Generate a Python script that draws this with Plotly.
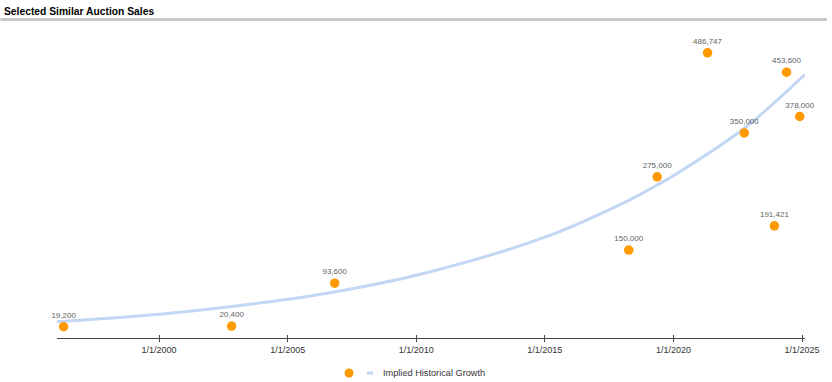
import plotly.graph_objects as go

# ---- data ----
sale_dates = ["1996-04-15", "2002-10-27", "2006-10-30", "2018-04-07", "2019-05-15",
              "2021-04-30", "2022-10-04", "2023-12-06", "2024-05-26", "2024-11-29"]
sale_prices = [19200, 20400, 93600, 150000, 275000, 486747, 350000, 191421, 453600, 378000]

trend_dates = ["1996-01-12", "1998-01-01", "2000-01-01", "2002-10-27", "2005-01-01",
               "2006-10-30", "2010-01-01", "2015-01-01", "2018-04-07", "2019-05-15",
               "2020-01-01", "2022-10-04", "2025-01-01", "2025-02-12"]
trend_values = [27700, 33500, 40500, 53800, 66000, 78500, 107000, 172000, 235000,
                261000, 277000, 358000, 445000, 450000]

tick_dates = ["2000-01-01", "2005-01-01", "2010-01-01", "2015-01-01", "2020-01-01", "2025-01-01"]
tick_labels = ["1/1/2000", "1/1/2005", "1/1/2010", "1/1/2015", "1/1/2020", "1/1/2025"]

title_text = "Selected Similar Auction Sales"
trend_name = "Implied Historical Growth"

x_range = ["1996-01-12", "2025-02-12"]
y_range = [0, 525600]

ORANGE = "#FF9900"
BLUE = "#C3D6F3"
FONT = "Liberation Sans, Arial, sans-serif"

W, H = 832, 382
ML, MR, MT, MB = 57, 22, 30, 44
PW = W - ML - MR
PH = H - MT - MB


def px(xp):
    return (xp - ML) / PW


def py(yp):
    return (H - MB - yp) / PH


fig = go.Figure()

fig.add_trace(go.Scatter(
    x=trend_dates, y=trend_values, mode="lines", name=trend_name,
    line=dict(color=BLUE, width=3, shape="spline", smoothing=1.0),
    hoverinfo="skip", showlegend=False,
))

fig.add_trace(go.Scatter(
    x=sale_dates, y=sale_prices, mode="markers+text", name="",
    marker=dict(color=ORANGE, size=9.5),
    text=[f"{v:,}" for v in sale_prices], textposition="top center",
    textfont=dict(family=FONT, size=8, color="#5f5f5f"),
    cliponaxis=False, showlegend=False,
))

# empty trace on an overlay axis so the tick marks cross the axis line
fig.add_trace(go.Scatter(x=[], y=[], xaxis="x2", yaxis="y", showlegend=False))

fig.update_layout(
    width=W, height=H, autosize=False,
    margin=dict(l=ML, r=MR, t=MT, b=MB, pad=0),
    paper_bgcolor="white", plot_bgcolor="white",
    font=dict(family=FONT, color="#333333"),
    title=dict(text=f"<b>{title_text}</b>", xref="container", yref="container",
               x=4 / W, xanchor="left", y=1 - 11 / H, yanchor="middle",
               font=dict(family=FONT, size=10.3, color="#000000")),
    xaxis=dict(type="date", range=x_range, tickmode="array", tickvals=tick_dates,
               ticktext=tick_labels, showgrid=False, zeroline=False,
               showline=True, linecolor="#444444", linewidth=1,
               ticks="outside", ticklen=3, tickcolor="#444444", tickwidth=1,
               tickfont=dict(family=FONT, size=9, color="#333333")),
    xaxis2=dict(type="date", range=x_range, overlaying="x", anchor="y", side="bottom",
                tickmode="array", tickvals=tick_dates, showticklabels=False,
                showgrid=False, zeroline=False, showline=False,
                ticks="inside", ticklen=3, tickcolor="#444444", tickwidth=1),
    yaxis=dict(range=y_range, visible=False, showgrid=False, zeroline=False),
    showlegend=False,
    shapes=[
        dict(type="line", xref="paper", yref="paper", x0=px(0), x1=px(W),
             y0=py(19.5), y1=py(19.5), line=dict(color="#C8C8C8", width=3)),
        # legend swatches
        dict(type="circle", xref="paper", yref="paper",
             x0=px(346.5), x1=px(355.5), y0=py(377.5), y1=py(368.5),
             fillcolor=ORANGE, line=dict(width=0)),
        dict(type="line", xref="paper", yref="paper", x0=px(369), x1=px(375),
             y0=py(373), y1=py(373), line=dict(color=BLUE, width=3)),
    ],
    annotations=[
        dict(text=trend_name, xref="paper", yref="paper", x=px(383), y=py(373),
             xanchor="left", yanchor="middle", showarrow=False,
             font=dict(family=FONT, size=9.2, color="#333333")),
    ],
)

fig.write_html("out.html",
               config={"displayModeBar": False, "responsive": False},
               post_script="document.body.style.margin='0';")
